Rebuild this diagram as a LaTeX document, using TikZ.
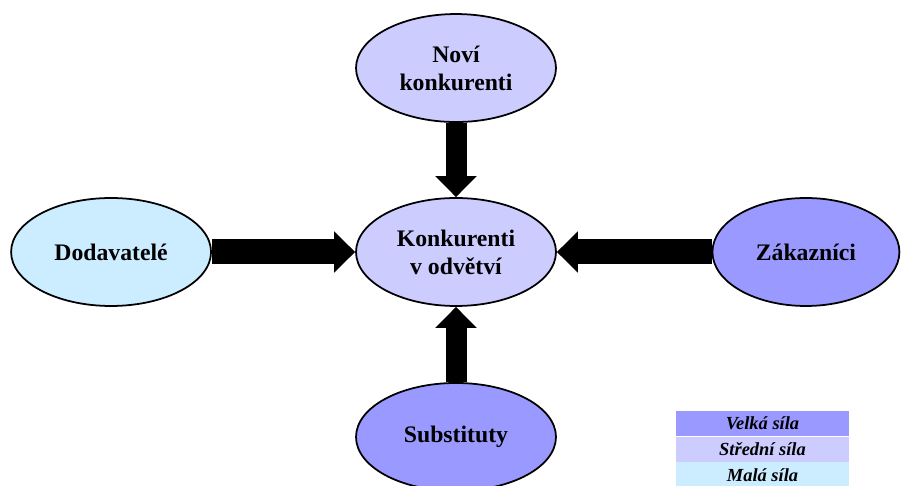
\documentclass[tikz,border=0pt]{standalone}
\usepackage{fontspec}
\setmainfont{Liberation Serif}
\usepackage{xcolor}
\usetikzlibrary{shapes.geometric, arrows.meta, positioning}

\definecolor{velka}{HTML}{9999FF}
\definecolor{stredni}{HTML}{CCCCFF}
\definecolor{mala}{HTML}{CCECFF}

\begin{document}
\begin{tikzpicture}[x=0.02cm, y=0.02cm,
  force/.style={ellipse, draw, line width=1pt, inner sep=0pt, minimum width=4cm, minimum height=2.16cm, align=center, font=\fontsize{13.5}{16}\selectfont\bfseries},
  push/.style={line width=0.42cm, -{Triangle[length=0.42cm, width=0.8cm]}},
  legend/.style={rectangle, minimum width=3.46cm, minimum height=0.5cm, inner sep=0pt, font=\fontsize{10.5}{12}\selectfont\bfseries\itshape}]

\useasboundingbox (0,0) rectangle (902,486);

\node[force, fill=stredni] (center) at (456,234) {Konkurenti\\v odvětví};
\node[force, fill=stredni, above of=center, node distance=3.68cm] (novi) {Noví\\konkurenti};
\node[force, fill=mala, left of=center, node distance=6.9cm] (dodav) {Dodavatelé};
\node[force, fill=velka, right of=center, node distance=7.0cm, minimum width=3.74cm] (zakaz) {Zákazníci};
\node[force, fill=velka, below of=center, node distance=3.7cm] (subst) {Substituty};

\draw[push] (novi) -- (center);
\draw[push, line width=0.5cm] (dodav) -- (center);
\draw[push, line width=0.5cm] (zakaz) -- (center);
\draw[push] (subst) -- (center);

% legenda
\node[legend, fill=velka] (velkasila) at (762.5,62.5) {Velká síla};
\node[legend, fill=stredni, below=0pt of velkasila] (strednisila) {Střední síla};
\node[legend, fill=mala, below=0pt of strednisila] (malasila) {Malá síla};

\end{tikzpicture}
\end{document}
